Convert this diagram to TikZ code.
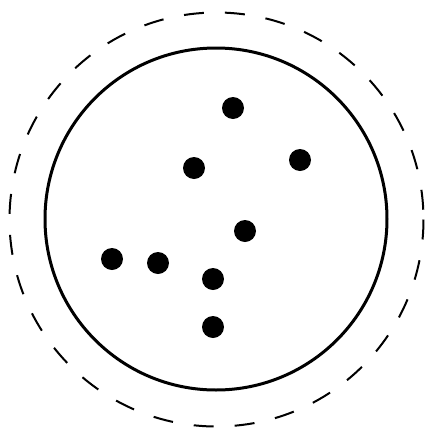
\documentclass[tikz,border=0pt]{standalone}
\begin{document}
\begin{tikzpicture}[x=1pt,y=-1pt,
  dot/.style={circle,fill=black,inner sep=0pt,minimum size=22pt},
  outerring/.style={draw=black,line width=2pt,dash pattern=on 20pt off 21pt},
  innerring/.style={draw=black,line width=3pt}]
\useasboundingbox (0,0) rectangle (431,432);
\draw[outerring] (216.5,219.5) circle (207);
\draw[innerring] (216,219) circle (171);
\node[dot] (d1) at (233,108) {};
\node[dot] (d2) at (194,168) {};
\node[dot] (d3) at (300,160) {};
\node[dot] (d4) at (245,231) {};
\node[dot] (d5) at (112,259) {};
\node[dot] (d6) at (158,263) {};
\node[dot] (d7) at (213,279) {};
\node[dot] (d8) at (213,327) {};
\end{tikzpicture}
\end{document}
